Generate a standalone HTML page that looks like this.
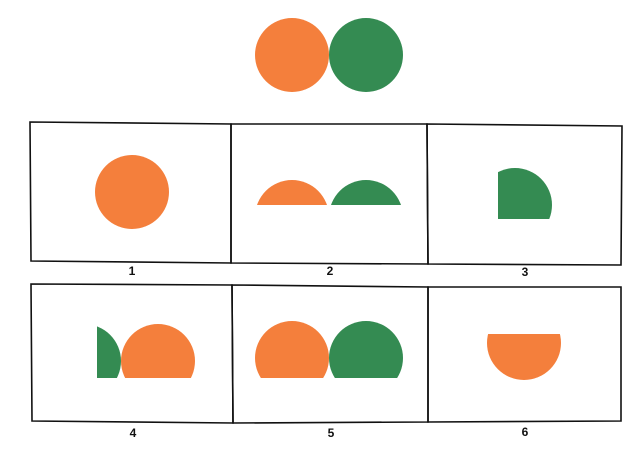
<!DOCTYPE html>
<html><head><meta charset="utf-8"><style>
body{margin:0;background:#fff;}
svg{display:block;}
text{font-family:"Liberation Sans",sans-serif;font-weight:bold;font-size:12px;}
</style></head><body>
<svg width="643" height="463" viewBox="0 0 643 463">
<defs>
<clipPath id="c2"><rect x="0" y="0" width="643" height="205"/></clipPath>
<clipPath id="c3"><rect x="498" y="0" width="200" height="219"/></clipPath>
<clipPath id="c4g"><rect x="97" y="0" width="200" height="378"/></clipPath>
<clipPath id="c4"><rect x="0" y="0" width="643" height="378"/></clipPath>
<clipPath id="c6"><rect x="0" y="334" width="643" height="200"/></clipPath>
</defs>
<g>
<circle cx="292" cy="55" r="37" fill="#f47f3c"/>
<circle cx="366" cy="55" r="37" fill="#348b52"/>
</g>
<g fill="none" stroke="#111" stroke-width="1.6">
<polygon points="30,122 231,124 231,263 31,261"/>
<polygon points="231,124 427,124 428,264 231,263"/>
<polygon points="427,124 622,126 621,265 428,264"/>
<polygon points="31,284 232,285 233,423 32,421"/>
<polygon points="232,285 428,287 428,422 233,423"/>
<polygon points="428,287 621,287 621,421 428,422"/>
</g>
<g><circle cx="132" cy="192" r="37" fill="#f47f3c"/></g>
<g clip-path="url(#c2)">
<circle cx="292" cy="217" r="37" fill="#f47f3c"/><circle cx="366" cy="217" r="37" fill="#348b52"/></g>
<g clip-path="url(#c3)"><circle cx="515" cy="205" r="37" fill="#348b52"/></g>
<g clip-path="url(#c4)">
<g clip-path="url(#c4g)"><circle cx="84" cy="361" r="37" fill="#348b52"/></g>
<circle cx="158" cy="361" r="37" fill="#f47f3c"/></g>
<g clip-path="url(#c4)">
<circle cx="292" cy="358" r="37" fill="#f47f3c"/><circle cx="366" cy="358" r="37" fill="#348b52"/></g>
<g clip-path="url(#c6)"><circle cx="524" cy="343" r="37" fill="#f47f3c"/></g>
<g text-anchor="middle" fill="#111">
<text x="132" y="275">1</text>
<text x="330" y="275">2</text>
<text x="525" y="276">3</text>
<text x="133" y="437">4</text>
<text x="331" y="437">5</text>
<text x="525" y="436">6</text>
</g>
</svg>
</body></html>
